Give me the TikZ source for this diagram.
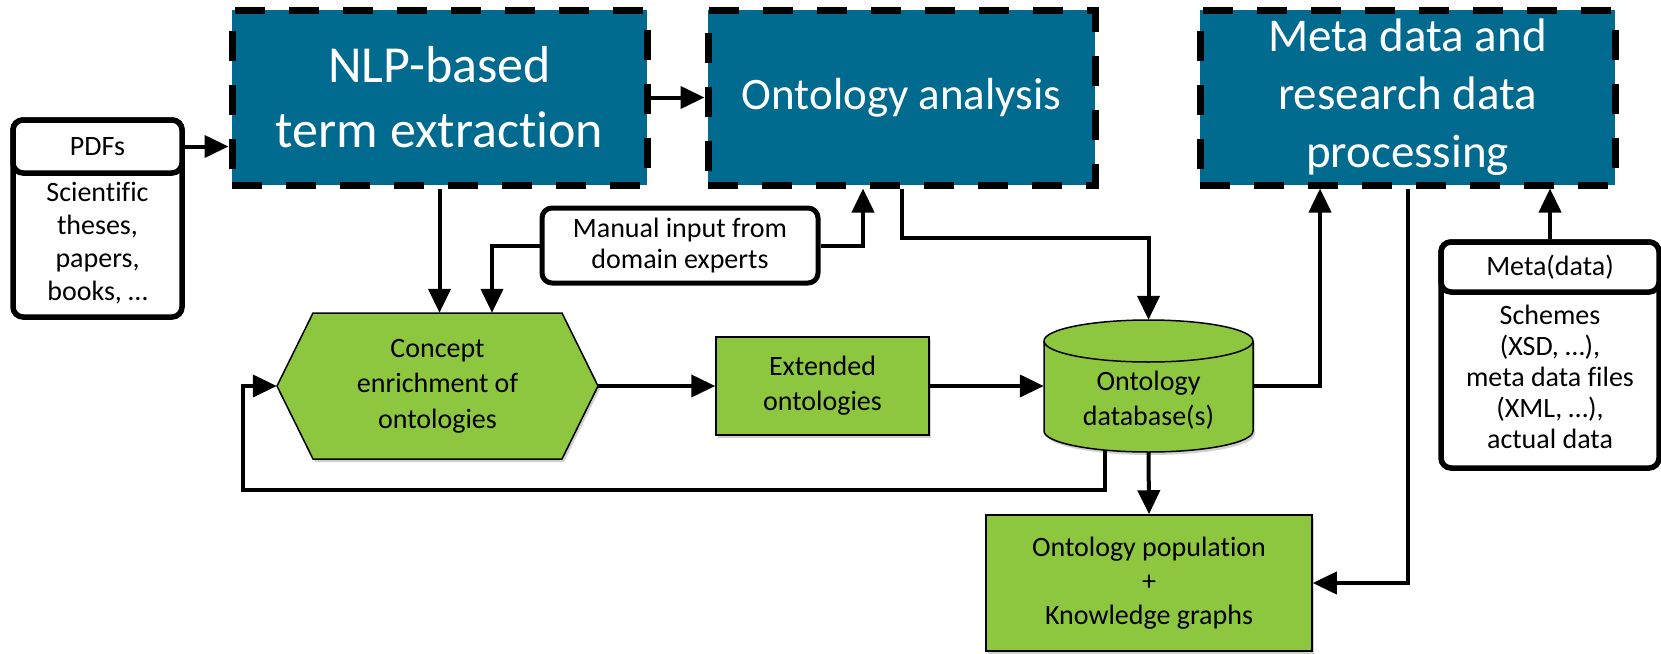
\documentclass[tikz,border=0pt]{standalone}
\usepackage{fontspec}
\setmainfont{Carlito}[Ligatures={NoCommon,NoRare,NoContextual}]
\usetikzlibrary{arrows.meta,calc,shadows}
\definecolor{procblue}{RGB}{0,106,143}
\definecolor{stepgreen}{RGB}{141,198,63}
\newcommand\lblfont{\fontsize{28}{34}\selectfont}

\begin{document}
\begin{tikzpicture}[x=1pt,y=-1pt,
  proc/.style={rectangle, fill=procblue, draw=black, line width=7pt,
    dash pattern=on 30pt off 24pt, text=white, align=center,
    inner sep=0pt, minimum height=175pt},
  srcbox/.style={rectangle, rounded corners=10pt, draw=black, fill=white,
    line width=5.5pt, inner sep=0pt, align=center, font=\lblfont},
  softshadow/.style={drop shadow={opacity=0.3, shadow xshift=2pt,
    shadow yshift=-3pt, fill=black!60}},
  greenbox/.style={rectangle, fill=stepgreen, draw=black, line width=1.5pt,
    inner sep=0pt, align=center, font=\lblfont, softshadow},
  greenline/.style={fill=stepgreen, draw=black, line width=1.5pt, softshadow},
  txt/.style={inner sep=0pt, align=center},
  arr/.style={-{Triangle[length=24pt,width=22pt]}, line width=4pt},
]
\useasboundingbox (0,0) rectangle (1661,653);

% --- processing steps (dashed blue) ---
\node[proc, minimum width=415pt, font=\fontsize{52}{65}\selectfont] (nlp) at (439.5,97.5) {NLP-based\\term extraction};
\node[proc, minimum width=387pt, font=\fontsize{45}{54}\selectfont] (oa) at (901.5,97.5) {Ontology analysis};
\node[proc, minimum width=415pt, font=\fontsize{47}{58}\selectfont] (meta) at (1407.5,97.5) {Meta data and\\research data\\processing};

% --- input sources ---
\node[srcbox, minimum width=169pt, minimum height=197pt] (pdfs) at (97.5,218.5) {};
\node[srcbox, minimum width=169pt, minimum height=53pt, anchor=north] (pdfhead) at (pdfs.north) {PDFs};
\node[txt, font=\fontsize{28}{33}\selectfont] (pdftext) at (97.5,243) {Scientific\\theses,\\papers,\\books, …};

\node[srcbox, line width=5pt, minimum width=276pt, minimum height=75pt, font=\fontsize{28}{31}\selectfont] (manual) at (680,245.5) {Manual input from\\domain experts};

\node[srcbox, minimum width=218pt, minimum height=226pt] (md) at (1550,355) {};
\node[srcbox, minimum width=218pt, minimum height=50pt, anchor=north] (mdhead) at (md.north) {Meta(data)};
\node[txt, font=\fontsize{28}{31}\selectfont] (mdtext) at (1550,377) {Schemes\\(XSD, …),\\meta data files\\(XML, …),\\actual data};

% --- enrichment hexagon ---
\path[greenline] (277,386) -- (313,313) -- (562,313) -- (598,386) -- (562,459) -- (313,459) -- cycle;
\node[txt, minimum width=321pt, minimum height=146pt, font=\fontsize{28}{35.5}\selectfont] (hex) at (437.5,386) {Concept\\enrichment of\\ontologies};

% --- extended ontologies ---
\node[greenbox, minimum width=213pt, minimum height=98pt, font=\fontsize{28}{35}\selectfont] (ext) at (822.5,386) {Extended\\ontologies};

% --- ontology database cylinder ---
\path[greenline] (1044,341) -- (1044,431) arc[start angle=180, end angle=0, x radius=104.5, y radius=21]
  -- (1253,341) arc[start angle=0, end angle=-180, x radius=104.5, y radius=21] -- cycle;
\draw[line width=1.5pt] (1044,341) arc[start angle=180, end angle=0, x radius=104.5, y radius=21];
\node[txt, minimum width=209pt, minimum height=132pt] (db) at (1148.5,386) {};
\node[txt, font=\fontsize{28}{35}\selectfont] (dbtext) at (1148.5,400) {Ontology\\database(s)};

% --- population / knowledge graphs ---
\node[greenbox, minimum width=326pt, minimum height=136pt, font=\fontsize{28}{34}\selectfont] (pop) at (1149,583) {Ontology population\\+\\Knowledge graphs};

% --- helper points ---
\coordinate (oadb) at (901.5,238);
\coordinate (loopstart) at (1105,450);
\coordinate (loopcorner) at (243,490);

% --- connectors ---
\draw[arr] (pdfhead.east) -- (pdfhead.east -| nlp.west);
\draw[arr] (nlp.east) -- (oa.west);
\draw[arr] (nlp.south) -- (nlp.south |- hex.north);
\draw[arr] (manual.west) -| ($(hex.north)+(54.5,0)$);
\draw[arr] (manual.east) -| ($(oa.south)+(-38.5,0)$);
\draw[arr] (oa.south) -- (oadb) -| (db.north);
\draw[arr] (hex.east) -- (ext.west);
\draw[arr] (ext.east) -- (db.west);
\draw[arr] (db.east) -| ($(meta.south)+(-87.5,0)$);
\draw[arr] (db.south) -- (pop.north);
\draw[arr] (loopstart) |- (loopcorner) |- (hex.west);
\draw[arr] (meta.south) |- (pop.east);
\draw[arr] (mdhead.north) -- (mdhead.north |- meta.south);
\end{tikzpicture}
\end{document}
